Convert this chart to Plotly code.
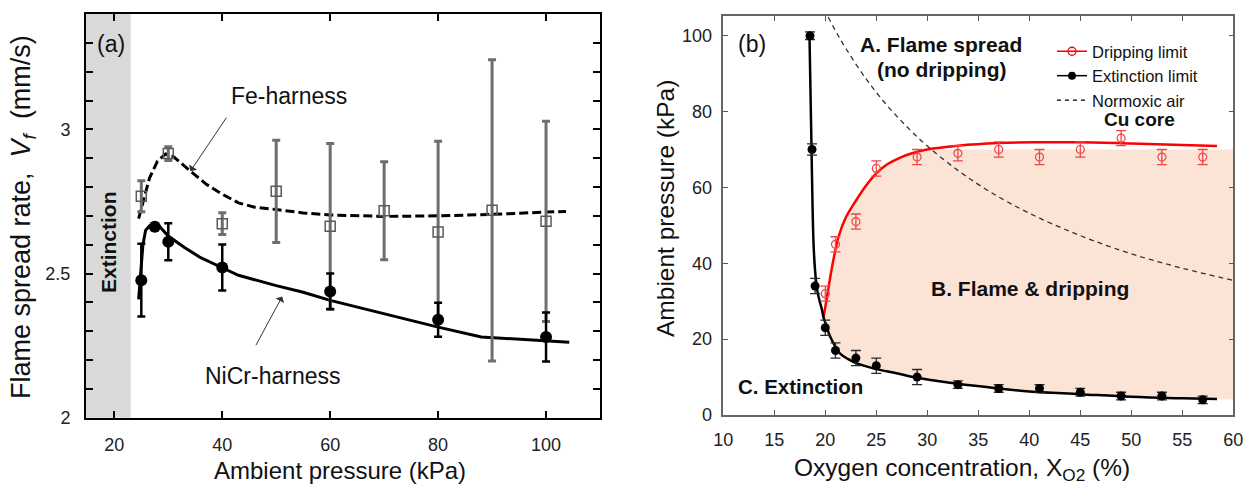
import plotly.graph_objects as go

FONT = "Liberation Sans, Arial, sans-serif"
W, H = 1245, 484

# ---------------- Panel (a) data ----------------
fe_p = [25, 30, 40, 50, 60, 70, 80, 90, 100]
fe_v = [2.768, 2.916, 2.673, 2.785, 2.664, 2.718, 2.644, 2.719, 2.681]
fe_err = [0.054, 0.024, 0.038, 0.177, 0.287, 0.17, 0.315, 0.522, 0.347]

nicr_p = [25, 27.5, 30, 40, 60, 80, 100]
nicr_v = [2.477, 2.662, 2.61, 2.521, 2.438, 2.34, 2.28]
nicr_err = [0.126, 0.012, 0.064, 0.08, 0.062, 0.059, 0.085]

fe_fit_p = [24.5, 25.5, 26.5, 28, 29.5, 31, 32.5, 34.1, 37, 40, 43, 46, 50, 55, 60, 70, 80, 90, 100, 103.7]
fe_fit_v = [2.69, 2.76, 2.83, 2.89, 2.915, 2.905, 2.88, 2.855, 2.81, 2.775, 2.745, 2.73, 2.722, 2.71,
            2.703, 2.698, 2.70, 2.705, 2.713, 2.715]

nicr_fit_p = [24.5, 24.9, 25.3, 25.8, 26.5, 28.3, 30, 33, 36, 40, 43, 50, 55, 60, 70, 80, 88, 93, 100, 104.3]
nicr_fit_v = [2.41, 2.5, 2.6, 2.65, 2.665, 2.665, 2.63, 2.59, 2.555, 2.52, 2.494, 2.458, 2.435, 2.407,
              2.361, 2.314, 2.28, 2.274, 2.268, 2.262]

a_yticks = [2.0, 2.1, 2.2, 2.3, 2.4, 2.5, 2.6, 2.7, 2.8, 2.9, 3.0, 3.1, 3.2, 3.3, 3.4]
a_yticktext = ["2", "", "", "", "", "2.5", "", "", "", "", "3", "", "", "", ""]
a_xticks = [20, 40, 60, 80, 100]

# ---------------- Panel (b) data ----------------
drip_x = [20, 21, 23, 25, 29, 33, 37, 41, 45, 49, 53, 57]
drip_y = [32, 45, 51, 65, 68, 69, 70, 68, 70, 73, 68, 68]
drip_err = [2, 2, 2, 2, 2, 2, 2, 2, 2, 2, 2, 2]

ext_x = [18.5, 18.7, 19, 20, 21, 23, 25, 29, 33, 37, 41, 45, 49, 53, 57]
ext_y = [100, 70, 34, 23, 17, 15, 13, 10, 8, 7, 7, 6, 5, 5, 4]
ext_err = [1, 1.5, 2, 2, 2, 2, 2, 2, 1, 1, 1, 1, 1, 1, 1]

ext_fit_x = [18.45, 18.55, 18.65, 18.75, 18.85, 19.0, 19.2, 19.45, 19.65, 19.85, 20.05, 20.35, 20.65,
             21.0, 21.45, 22.2, 23.1, 24.7, 27, 29, 32.2, 36, 40, 45, 50, 55, 58.4]
ext_fit_y = [100, 85, 70, 55, 45, 38, 33, 30, 28, 25.5, 24, 21.5, 19.7, 18, 16.2, 14.8, 13.6, 12.3,
             11, 9.8, 8.5, 7.3, 6.2, 5.5, 4.8, 4.4, 4.2]

drip_fit_x = [19.8, 20.1, 20.4, 20.8, 21.3, 22, 23, 24, 25, 26, 27.3, 28.5, 30, 33, 37, 41, 45, 50, 55, 58.4]
drip_fit_y = [25.5, 30, 35, 41, 47, 52, 56.5, 60.5, 63.7, 66, 67.8, 69, 70, 71, 71.7, 71.9, 71.9, 71.6,
              71.2, 70.9]

# shaded "flame & dripping" region: upper boundary then lower boundary
region_up_x = [19.8, 20.1, 20.4, 20.8, 21.3, 22, 23, 24, 25, 26, 27.3, 28.5, 29.6, 60, 60]
region_up_y = [25.5, 30, 35, 41, 47, 52, 56.5, 60.5, 63.7, 66, 67.8, 69, 70, 70, 4.1]
region_lo_x = [58.4, 55, 50, 45, 40, 36, 32.2, 29, 27, 24.7, 23.1, 22.2, 21.45, 21.0, 20.65, 20.35,
               20.05, 19.85]
region_lo_y = [4.2, 4.4, 4.8, 5.5, 6.2, 7.3, 8.5, 9.8, 11, 12.3, 13.6, 14.8, 16.2, 18, 19.7, 21.5,
               24, 25.5]

air_x = [19.5, 20, 21, 22, 24, 26, 28, 30, 33, 36, 40, 45, 50, 55, 60]
air_y = [109.1, 106.4, 101.3, 96.7, 88.6, 81.8, 76.0, 70.9, 64.5, 59.1, 53.2, 47.3, 42.5, 38.7, 35.5]

b_xticks = [10, 15, 20, 25, 30, 35, 40, 45, 50, 55, 60]
b_yticks = [0, 20, 40, 60, 80, 100]

fig = go.Figure()

# ---- panel (a) traces
fig.add_trace(go.Scatter(x=fe_fit_p, y=fe_fit_v, mode="lines", xaxis="x", yaxis="y",
                         line=dict(color="black", width=3, dash="9px,4px"), showlegend=False))
fig.add_trace(go.Scatter(x=nicr_fit_p, y=nicr_fit_v, mode="lines", xaxis="x", yaxis="y",
                         line=dict(color="black", width=3), showlegend=False))
fig.add_trace(go.Scatter(x=fe_p, y=fe_v, mode="markers", xaxis="x", yaxis="y",
                         error_y=dict(type="data", array=fe_err, color="rgb(110,110,110)",
                                      thickness=3, width=4),
                         marker=dict(symbol="square-open", size=10, color="rgb(90,90,90)",
                                     line=dict(width=1.5)),
                         showlegend=False))
fig.add_trace(go.Scatter(x=nicr_p, y=nicr_v, mode="markers", xaxis="x", yaxis="y",
                         error_y=dict(type="data", array=nicr_err, color="black",
                                      thickness=2.5, width=4),
                         marker=dict(symbol="circle", size=12, color="black"),
                         showlegend=False))

# ---- panel (b) traces
fig.add_trace(go.Scatter(x=region_up_x + region_lo_x, y=region_up_y + region_lo_y, mode="lines",
                         xaxis="x2", yaxis="y2", fill="toself", fillcolor="rgb(251,228,214)",
                         line=dict(width=0), hoverinfo="skip", showlegend=False))
fig.add_trace(go.Scatter(x=air_x, y=air_y, mode="lines", xaxis="x2", yaxis="y2",
                         line=dict(color="rgb(50,50,50)", width=1.3, dash="5px,4px", shape="spline"),
                         showlegend=False))
fig.add_trace(go.Scatter(x=drip_fit_x, y=drip_fit_y, mode="lines", xaxis="x2", yaxis="y2",
                         line=dict(color="rgb(255,0,0)", width=2.5, shape="spline"), showlegend=False))
fig.add_trace(go.Scatter(x=ext_fit_x, y=ext_fit_y, mode="lines", xaxis="x2", yaxis="y2",
                         line=dict(color="black", width=2.5, shape="spline"), showlegend=False))
fig.add_trace(go.Scatter(x=drip_x, y=drip_y, mode="markers", xaxis="x2", yaxis="y2",
                         error_y=dict(type="data", array=drip_err, color="rgb(240,70,70)",
                                      thickness=1.3, width=5),
                         marker=dict(symbol="circle-open", size=8, color="rgb(240,70,70)",
                                     line=dict(width=1.2)),
                         showlegend=False))
fig.add_trace(go.Scatter(x=ext_x, y=ext_y, mode="markers", xaxis="x2", yaxis="y2",
                         error_y=dict(type="data", array=ext_err, color="rgb(40,40,40)",
                                      thickness=1.3, width=5),
                         marker=dict(symbol="circle", size=9, color="black"),
                         showlegend=False))

# legend entries
fig.add_trace(go.Scatter(x=[None], y=[None], mode="lines+markers", xaxis="x2", yaxis="y2",
                         name="Dripping limit", line=dict(color="rgb(255,0,0)", width=1.5),
                         marker=dict(symbol="circle-open", size=8, color="rgb(255,0,0)",
                                     line=dict(width=1.3))))
fig.add_trace(go.Scatter(x=[None], y=[None], mode="lines+markers", xaxis="x2", yaxis="y2",
                         name="Extinction limit", line=dict(color="black", width=1.5),
                         marker=dict(symbol="circle", size=8, color="black")))
fig.add_trace(go.Scatter(x=[None], y=[None], mode="lines", xaxis="x2", yaxis="y2",
                         name="Normoxic air", line=dict(color="black", width=1.3, dash="4px,4px")))


def px2paper(x, y):
    return x / W, 1 - y / H


tickfont = dict(family=FONT, size=18, color="#222")
fig.update_layout(
    width=W, height=H, margin=dict(l=0, r=0, t=0, b=0),
    paper_bgcolor="white", plot_bgcolor="white",
    font=dict(family=FONT, color="#111"),
    xaxis=dict(domain=[86 / W, 600 / W], range=[14.75, 110], tickvals=a_xticks,
               ticks="inside", ticklen=7, tickwidth=2, tickcolor="black", mirror="ticks",
               showline=True, linecolor="black", linewidth=2, showgrid=False, zeroline=False,
               tickfont=tickfont, ticklabelstandoff=10, automargin=False, anchor="y"),
    yaxis=dict(domain=[1 - 417.7 / H, 1 - 14 / H], range=[2, 3.4], tickvals=a_yticks,
               ticktext=a_yticktext, ticks="inside", ticklen=7, tickwidth=1.5, tickcolor="black",
               mirror="ticks", showline=True, linecolor="black", linewidth=2, showgrid=False,
               zeroline=False, tickfont=tickfont, ticklabelstandoff=10, automargin=False, anchor="x"),
    xaxis2=dict(domain=[723.3 / W, 1233.3 / W], range=[10, 60], tickvals=b_xticks,
                ticks="inside", ticklen=5, tickwidth=1, tickcolor="#555", mirror="ticks",
                showline=True, linecolor="#666", linewidth=1.5, showgrid=False, zeroline=False,
                tickfont=tickfont, ticklabelstandoff=8, automargin=False, anchor="y2"),
    yaxis2=dict(domain=[1 - 415 / H, 1 - 16 / H], range=[0, 105.2], tickvals=b_yticks,
                ticks="inside", ticklen=5, tickwidth=1, tickcolor="#555", mirror="ticks",
                showline=True, linecolor="#666", linewidth=1.5, showgrid=False, zeroline=False,
                tickfont=tickfont, ticklabelstandoff=6, automargin=False, anchor="x2"),
    legend=dict(x=1052 / W, y=1 - 34 / H, xanchor="left", yanchor="top",
                bgcolor="rgba(0,0,0,0)", font=dict(family=FONT, size=16.5, color="#111"),
                itemwidth=30, tracegroupgap=0),
    shapes=[dict(type="rect", xref="x", yref="y domain", x0=14.75, x1=23.05, y0=0, y1=1,
                 fillcolor="rgb(217,217,217)", line=dict(width=0), layer="below")],
)

ann = []


def text_px(x, y, t, size, bold=False, angle=0, color="#111"):
    px, py = px2paper(x, y)
    if bold:
        t = "<b>" + t + "</b>"
    ann.append(dict(x=px, y=py, xref="paper", yref="paper", text=t, showarrow=False,
                    xanchor="center", yanchor="middle", textangle=angle,
                    font=dict(family=FONT, size=size, color=color)))


# axis titles
text_px(23, 217, "Flame spread rate,  <i>V</i><sub><i>f</i></sub>  (mm/s)", 27, angle=-90)
text_px(340, 470, "Ambient pressure (kPa)", 24)
text_px(665, 209, "Ambient pressure (kPa)", 24.5, angle=-90)
text_px(962, 469, "Oxygen concentration, X<sub>O2</sub> (%)", 24.5)

# panel labels and in-plot text
text_px(111, 44, "(a)", 23)
text_px(108, 242, "Extinction", 21, bold=True, angle=-90)
text_px(289, 96, "Fe-harness", 23)
text_px(272, 376, "NiCr-harness", 23)
text_px(752, 44, "(b)", 23)
text_px(941, 45, "A. Flame spread", 21, bold=True)
text_px(941, 70, "(no dripping)", 21, bold=True)
text_px(1139, 119, "Cu core", 19, bold=True)
text_px(1030, 288, "B. Flame &amp; dripping", 21, bold=True)
text_px(800, 386, "C. Extinction", 20.5, bold=True)

# arrows
ann.append(dict(x=34.1, y=2.855, xref="x", yref="y", ax=37, ay=-55, text="", showarrow=True,
                arrowhead=1, arrowsize=1.6, arrowwidth=1, arrowcolor="#333"))
ann.append(dict(x=51.1, y=2.42, xref="x", yref="y", ax=-27, ay=50, text="", showarrow=True,
                arrowhead=1, arrowsize=1.6, arrowwidth=1, arrowcolor="#333"))

fig.update_layout(annotations=ann)
fig.write_html("out.html", config={"displayModeBar": False},
               post_script="document.body.style.margin='0px';")
